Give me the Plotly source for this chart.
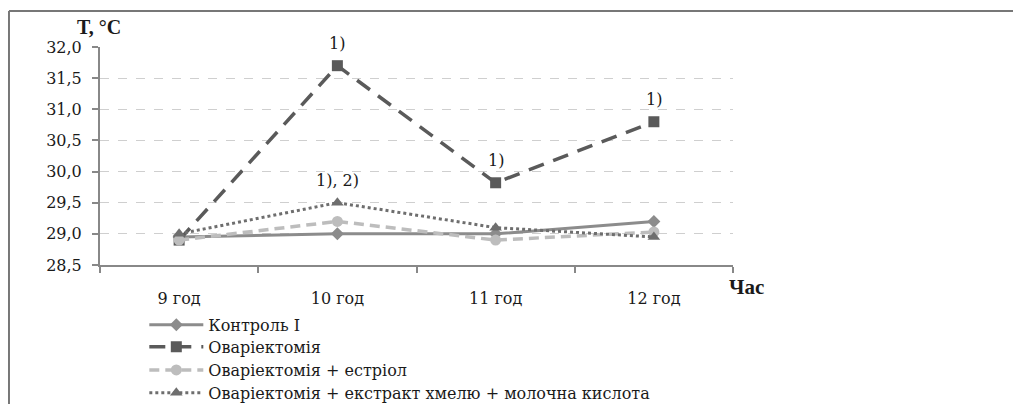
import plotly.graph_objects as go

categories = ["9 год", "10 год", "11 год", "12 год"]
control = [28.95, 29.0, 29.0, 29.2]
ovx = [28.9, 31.7, 29.82, 30.8]
ovx_estriol = [28.9, 29.2, 28.9, 29.03]
ovx_extract = [29.0, 29.5, 29.1, 28.95]
series_names = ["Контроль I", "Оваріектомія", "Оваріектомія + естріол",
                "Оваріектомія + екстракт хмелю + молочна кислота"]
# significance labels: (category index, series, label)
notes = [(1, "ovx", "1)"), (2, "ovx", "1)"), (3, "ovx", "1)"), (1, "extract", "1), 2)")]

xpos = [i + 0.5 for i in range(len(categories))]
BOLD = "Liberation Serif"
REG = "DejaVu Serif"
INK = "#1a1a1a"

styles = [
    dict(line=dict(color="#8c8c8c", width=3), marker=dict(symbol="diamond", size=10, color="#8c8c8c")),
    dict(line=dict(color="#5a5a5a", width=3.5, dash="16px,10px"), marker=dict(symbol="square", size=11, color="#5a5a5a")),
    dict(line=dict(color="#bdbdbd", width=3.5, dash="10px,6px"), marker=dict(symbol="circle", size=11, color="#bdbdbd")),
    dict(line=dict(color="#6e6e6e", width=3, dash="dot"), marker=dict(symbol="triangle-up", size=11, color="#6e6e6e")),
]
data = [control, ovx, ovx_estriol, ovx_extract]
legend_ids = ["legend", "legend2", "legend3", "legend4"]

fig = go.Figure()
for vals, name, st, lg in zip(data, series_names, styles, legend_ids):
    fig.add_trace(go.Scatter(x=xpos, y=vals, name=name, mode="lines+markers",
                             legend=lg, **st))

lookup = {"ovx": ovx, "extract": ovx_extract}
for idx, key, label in notes:
    fig.add_annotation(x=xpos[idx], y=lookup[key][idx], text=label, showarrow=False,
                       yshift=22, font=dict(family=REG, size=16, color=INK))

fig.add_annotation(xref="paper", yref="paper", x=-0.002, y=1.09, xanchor="center",
                   yanchor="middle", text="<b>T, °C</b>", showarrow=False,
                   font=dict(family=BOLD, size=20, color=INK))
fig.add_annotation(xref="paper", yref="paper", x=0.99, y=-0.101, xanchor="left",
                   yanchor="middle", text="<b>Час</b>", showarrow=False,
                   font=dict(family=BOLD, size=21, color=INK))

# frame lines (left and top)
fig.add_shape(type="line", xref="paper", yref="paper", x0=-0.1438, x1=-0.1438,
              y0=1.165, y1=-0.7, line=dict(color="#777", width=2))
fig.add_shape(type="line", xref="paper", yref="paper", x0=-0.1438, x1=1.5,
              y0=1.165, y1=1.165, line=dict(color="#777", width=2))

legend_y = [-0.275, -0.376, -0.482, -0.587]
leg_common = dict(x=0.07, xanchor="left", yanchor="middle",
                  font=dict(family=REG, size=16, color=INK),
                  itemwidth=54, bgcolor="rgba(0,0,0,0)")

layout_legends = {lg: dict(y=yv, **leg_common) for lg, yv in zip(legend_ids, legend_y)}

fig.update_layout(
    width=1013, height=396,
    margin=dict(l=92, r=288, t=39, b=139, autoexpand=False),
    paper_bgcolor="white", plot_bgcolor="white",
    separators=", ",
    font=dict(family=REG, size=16, color=INK),
    showlegend=True,
    xaxis=dict(range=[0, 4], tickvals=xpos, ticktext=categories, ticks="",
               ticklabelstandoff=18,
               showgrid=False, zeroline=False, showline=True, linecolor="#888",
               linewidth=2,
               minor=dict(tick0=0, dtick=1, ticks="outside", ticklen=6,
                          tickcolor="#888", tickwidth=2, showgrid=False),
               tickfont=dict(family=REG, size=16, color=INK)),
    yaxis=dict(range=[28.5, 32.0], dtick=0.5, tickformat=".1f", ticks="outside",
               ticklen=6, tickcolor="#888", tickwidth=2, ticklabelstandoff=7,
               showline=True, linecolor="#888", linewidth=2, zeroline=False,
               showgrid=True, gridcolor="#cfcfcf", griddash="dash", gridwidth=1,
               tickfont=dict(family=REG, size=16, color=INK)),
    **layout_legends,
)

fig.write_html("out.html")
